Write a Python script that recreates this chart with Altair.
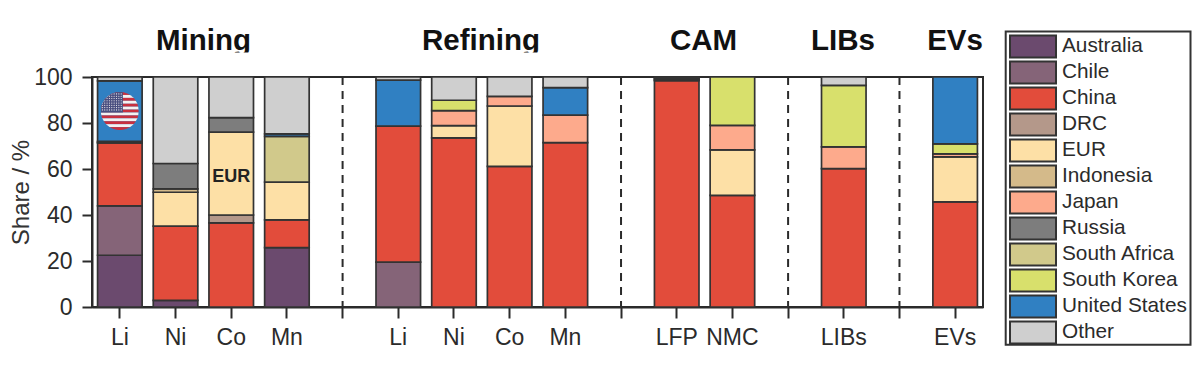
import base64
import altair as alt
import pandas as pd

FONT = "Liberation Sans"
INK = "#2b2b2b"

slots = ["Mining|Li", "Mining|Ni", "Mining|Co", "Mining|Mn", "gap1|",
         "Refining|Li", "Refining|Ni", "Refining|Co", "Refining|Mn", "gap2|",
         "CAM|LFP", "CAM|NMC", "gap3|", "LIBs|LIBs", "gap4|", "EVs|EVs"]
gaps = ["gap1|", "gap2|", "gap3|", "gap4|"]
bars = [s for s in slots if s not in gaps]

countries = ["Australia", "Chile", "China", "DRC", "EUR", "Indonesia", "Japan",
             "Russia", "South Africa", "South Korea", "United States", "Other"]
colors = ["#6b4a6e", "#856478", "#e24c3b", "#b4988a", "#fde0a6", "#d4ba8a",
          "#fdaa8c", "#7d7d7d", "#d1c98b", "#d8e06c", "#3080c2", "#cfcfcf"]

#            M-Li  M-Ni  M-Co  M-Mn  R-Li  R-Ni  R-Co  R-Mn  LFP  NMC  LIBs  EVs
australia = [22.5, 2.9,  0,    25.8, 0,    0,    0,    0,    0,   0,   0,    0]
chile     = [21.5, 0,    0,    0,    19.5, 0,    0,    0,    0,   0,   0,    0]
china     = [27.3, 32.3, 36.6, 12.1, 59.1, 73.5, 61.1, 71.5, 98.4, 48.5, 60.2, 45.7]
drc       = [0,    0,    3.4,  0,    0,    0,    0,    0,    0,   0,   0,    0]
eur       = [0,    14.7, 36.0, 16.4, 0,    5.4,  26.3, 0,    0,   19.8, 0,   19.6]
indonesia = [0.3,  1.5,  0,    0,    0,    0,    0,    0,    0,   0,   0,    0]
japan     = [0,    0,    0,    0,    0,    6.5,  4.2,  11.9, 0.5, 10.7, 9.4, 1.3]
russia    = [0.4,  11.0, 6.3,  0,    0,    0,    0,    0,    0,   0,   0,    0]
s_africa  = [0,    0,    0,    19.9, 0,    0,    0,    0,    0,   0,   0,    0]
s_korea   = [0,    0,    0,    0,    0,    4.5,  0,    0,    0.5, 21.0, 26.8, 4.3]
us        = [26.3, 0,    0,    1.1,  20.0, 0,    0,    12.0, 0,   0,   0,    29.1]
other     = [1.7,  37.6, 17.7, 24.7, 1.4,  10.1, 8.4,  4.6,  0.6, 0,   3.6,  0]
series = [australia, chile, china, drc, eur, indonesia, japan, russia,
          s_africa, s_korea, us, other]

rows = []
for rank, (name, vals) in enumerate(zip(countries, series)):
    for slot, v in zip(bars, vals):
        if v > 0:
            rows.append({"slot": slot, "country": name, "share": v, "rank": rank})
df = pd.DataFrame(rows)

x_enc = alt.X("slot:N", sort=slots,
              scale=alt.Scale(domain=slots, paddingInner=0.2, paddingOuter=0.1),
              axis=alt.Axis(title=None, labelExpr="split(datum.label, '|')[1]", labelAngle=0,
                            labelFont=FONT, labelFontSize=23, labelColor=INK, labelPadding=8,
                            tickSize=11, tickWidth=2, tickColor=INK,
                            domainWidth=2, domainColor=INK))

bar_layer = alt.Chart(df).mark_bar(stroke="#333333", strokeWidth=1.7).encode(
    x=x_enc,
    y=alt.Y("share:Q", stack="zero", scale=alt.Scale(domain=[0, 100], nice=False),
            axis=alt.Axis(title="Share / %", values=list(range(0, 101, 10)),
                          labelExpr="datum.value % 20 === 0 ? datum.label : ''",
                          tickSize={"condition": {"test": "datum.value % 20 === 0", "value": 10}, "value": 5},
                          tickWidth=2, tickColor=INK, domainWidth=2, domainColor=INK,
                          labelFont=FONT, labelFontSize=23, labelColor=INK, labelPadding=10,
                          titleFont=FONT, titleFontSize=24, titleFontWeight="normal", titleColor="#333333",
                          titlePadding=0, grid=False)),
    color=alt.Color("country:N", scale=alt.Scale(domain=countries, range=colors),
                    legend=alt.Legend(orient="none", legendX=917, legendY=-43.5, title=None, padding=0,
                                      symbolType="M-1,-0.48H1V0.48H-1Z", symbolSize=2116,
                                      symbolStrokeColor="#333333", symbolStrokeWidth=2, symbolOpacity=1,
                                      clipHeight=25.87, rowPadding=0, labelOffset=5,
                                      labelFont=FONT, labelFontSize=20.8, labelColor=INK, labelLimit=160)),
    order=alt.Order("rank:Q"),
)

gap_layer = alt.Chart(pd.DataFrame({"slot": gaps})).mark_rule(
    color=INK, strokeWidth=2, strokeDash=[8, 6]
).encode(x=x_enc)

eur_label = alt.Chart(pd.DataFrame({"slot": ["Mining|Co"], "v": [56.5], "t": ["EUR"]})).mark_text(
    font=FONT, fontWeight="bold", fontSize=18, color="#222222"
).encode(x=x_enc, y=alt.Y("v:Q"), text="t:N")

# Flag badge on the United States segment of mining Li
stripes = "".join(f'<rect y="{i*100/13:.2f}" width="100" height="{100/13:.2f}" fill="{"#c8303f" if i % 2 == 0 else "#f4f1f1"}"/>' for i in range(13))
dots = "".join(f'<circle cx="{4+c*6.2:.1f}" cy="{5+r*6:.1f}" r="1.5" fill="#f4f1f1"/>' for r in range(8) for c in range(9))
flag_svg = ('<svg xmlns="http://www.w3.org/2000/svg" viewBox="0 0 100 100"><defs><clipPath id="c">'
            '<circle cx="50" cy="50" r="50"/></clipPath></defs><g clip-path="url(#c)">'
            + stripes + '<rect width="58" height="53.8" fill="#4a4f80"/>' + dots + '</g></svg>')
flag_url = "data:image/svg+xml;base64," + base64.b64encode(flag_svg.encode()).decode()
flag = alt.Chart(pd.DataFrame({"slot": ["Mining|Li"], "v": [85.2], "url": [flag_url]})).mark_image(
    width=38, height=38, align="center", baseline="middle"
).encode(x=x_enc, y=alt.Y("v:Q"), url="url:N")

headings = [("Mining", 111.5), ("Refining", 389), ("CAM", 611.5), ("LIBs", 751), ("EVs", 863)]
head_layers = [
    alt.Chart(pd.DataFrame({"t": [t]})).mark_text(
        font=FONT, fontWeight="bold", fontSize=29.5, color="#111111", baseline="alphabetic", align="center"
    ).encode(x=alt.value(px), y=alt.value(-27.5), text="t:N")
    for t, px in headings
]
head_mask = alt.Chart(pd.DataFrame({"a": [0]})).mark_rect(fill="white", stroke=None).encode(
    x=alt.value(60), x2=alt.value(460), y=alt.value(-24.5), y2=alt.value(-10))

legend_box = alt.Chart(pd.DataFrame({"a": [0]})).mark_rect(fill="white", stroke="#333333", strokeWidth=2).encode(
    x=alt.value(913.7), x2=alt.value(1098.5), y=alt.value(-45.6), y2=alt.value(267.7))

chart = alt.layer(legend_box, gap_layer, bar_layer, flag, eur_label, *head_layers, head_mask).properties(
    width=891, height=230,
    autosize=alt.AutoSizeParams(type="none"),
    padding={"left": 84, "top": 69, "right": 209, "bottom": 50},
).configure_view(stroke=INK, strokeWidth=2)

chart.save("out.html", embed_options={"renderer": "svg", "actions": False})
